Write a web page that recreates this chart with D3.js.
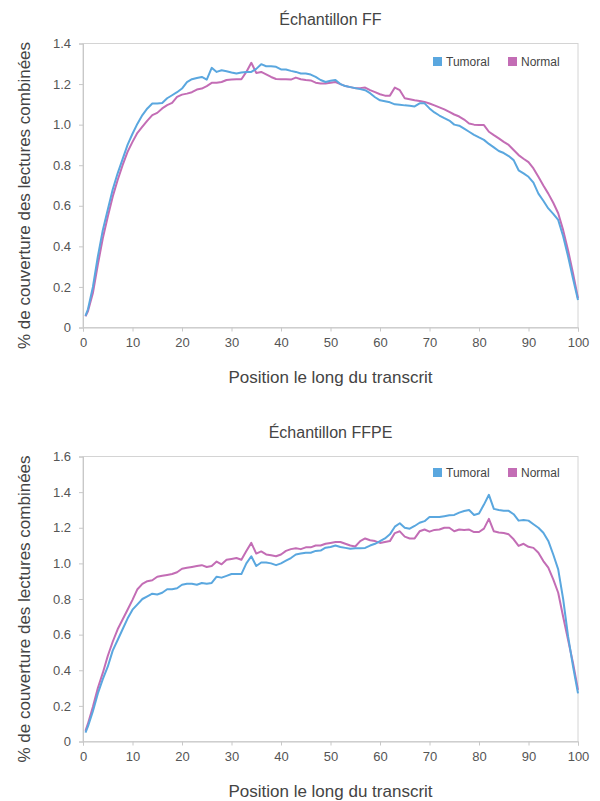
<!DOCTYPE html>
<html>
<head>
<meta charset="utf-8">
<script src="https://cdn.jsdelivr.net/npm/d3@7"></script>
<style>
  body { margin: 0; background: #fff; }
  text { font-family: "Liberation Sans", Arial, sans-serif; }
</style>
</head>
<body>
<script>
// position along the transcript (first point sits just right of 0)
var positions = [0.5].concat(d3.range(1, 101));

var ffTumoral = [0.057,
  0.09, 0.20, 0.35, 0.48, 0.58, 0.68, 0.76, 0.83, 0.90, 0.955,
  1.005, 1.047, 1.08, 1.104, 1.104, 1.107, 1.13, 1.145, 1.16, 1.178,
  1.21, 1.224, 1.23, 1.235, 1.222, 1.28, 1.26, 1.268, 1.263, 1.257,
  1.252, 1.257, 1.26, 1.26, 1.275, 1.298, 1.288, 1.288, 1.285, 1.272,
  1.272, 1.265, 1.26, 1.252, 1.252, 1.247, 1.235, 1.22, 1.21, 1.216,
  1.22, 1.20, 1.19, 1.185, 1.18, 1.175, 1.17, 1.155, 1.135, 1.12,
  1.115, 1.11, 1.10, 1.098, 1.095, 1.093, 1.09, 1.105, 1.105, 1.08,
  1.06, 1.045, 1.032, 1.02, 1.0, 0.995, 0.98, 0.965, 0.95, 0.937,
  0.925, 0.905, 0.888, 0.87, 0.86, 0.845, 0.825, 0.775, 0.76, 0.743,
  0.714, 0.66, 0.625, 0.587, 0.56, 0.53, 0.45, 0.35, 0.24, 0.136];

var ffNormal = [0.055,
  0.08, 0.17, 0.31, 0.44, 0.546, 0.645, 0.727, 0.80, 0.866, 0.915,
  0.96, 0.99, 1.02, 1.047, 1.058, 1.08, 1.096, 1.107, 1.137, 1.148,
  1.153, 1.16, 1.173, 1.178, 1.19, 1.206, 1.206, 1.21, 1.22, 1.222,
  1.224, 1.224, 1.26, 1.305, 1.255, 1.26, 1.248, 1.235, 1.225, 1.224,
  1.224, 1.222, 1.232, 1.224, 1.22, 1.218, 1.207, 1.203, 1.203, 1.206,
  1.21, 1.20, 1.19, 1.185, 1.18, 1.18, 1.183, 1.17, 1.16, 1.15,
  1.143, 1.143, 1.183, 1.17, 1.13, 1.125, 1.12, 1.117, 1.112, 1.104,
  1.095, 1.085, 1.075, 1.063, 1.05, 1.04, 1.025, 1.006, 1.0, 0.998,
  0.998, 0.965, 0.948, 0.932, 0.915, 0.90, 0.875, 0.85, 0.832, 0.815,
  0.784, 0.743, 0.70, 0.66, 0.615, 0.563, 0.48, 0.38, 0.267, 0.144];

var ffpeTumoral = [0.05,
  0.085, 0.17, 0.27, 0.35, 0.42, 0.51, 0.57, 0.63, 0.69, 0.74,
  0.77, 0.80, 0.815, 0.83, 0.825, 0.835, 0.855, 0.855, 0.86, 0.88,
  0.885, 0.885, 0.88, 0.89, 0.885, 0.89, 0.925, 0.92, 0.93, 0.94,
  0.94, 0.94, 1.0, 1.04, 0.985, 1.005, 1.005, 1.0, 0.99, 1.0,
  1.015, 1.03, 1.05, 1.055, 1.06, 1.06, 1.07, 1.072, 1.088, 1.092,
  1.1, 1.092, 1.087, 1.082, 1.085, 1.085, 1.087, 1.1, 1.11, 1.125,
  1.14, 1.163, 1.206, 1.225, 1.2, 1.195, 1.21, 1.228, 1.237, 1.26,
  1.26, 1.26, 1.265, 1.27, 1.272, 1.285, 1.294, 1.30, 1.272, 1.28,
  1.33, 1.385, 1.306, 1.30, 1.295, 1.295, 1.276, 1.24, 1.244, 1.24,
  1.22, 1.20, 1.172, 1.126, 1.05, 0.966, 0.80, 0.59, 0.42, 0.27];

var ffpeNormal = [0.06,
  0.10, 0.195, 0.30, 0.385, 0.48, 0.56, 0.63, 0.685, 0.74, 0.795,
  0.855, 0.885, 0.90, 0.905, 0.925, 0.93, 0.935, 0.94, 0.95, 0.97,
  0.975, 0.98, 0.985, 0.99, 0.98, 0.985, 1.01, 0.995, 1.02, 1.025,
  1.03, 1.02, 1.07, 1.115, 1.055, 1.067, 1.05, 1.045, 1.04, 1.05,
  1.07, 1.08, 1.085, 1.08, 1.09, 1.09, 1.1, 1.1, 1.11, 1.115,
  1.12, 1.12, 1.11, 1.10, 1.095, 1.125, 1.14, 1.13, 1.125, 1.115,
  1.12, 1.125, 1.17, 1.18, 1.15, 1.14, 1.14, 1.18, 1.19, 1.178,
  1.188, 1.19, 1.20, 1.20, 1.18, 1.19, 1.188, 1.19, 1.176, 1.176,
  1.195, 1.25, 1.18, 1.173, 1.17, 1.163, 1.135, 1.098, 1.11, 1.093,
  1.087, 1.06, 1.013, 0.976, 0.91, 0.835, 0.70, 0.57, 0.44, 0.29];

var xTicks = [0, 10, 20, 30, 40, 50, 60, 70, 80, 90, 100];
var ffYTicks = [0, 0.2, 0.4, 0.6, 0.8, 1.0, 1.2, 1.4];
var ffpeYTicks = [0, 0.2, 0.4, 0.6, 0.8, 1.0, 1.2, 1.4, 1.6];

var seriesNames = ["Tumoral", "Normal"];
var colors = {Tumoral: "#5aa7df", Normal: "#c36db5"};

var W = 600, H = 801;
var svg = d3.select("body").append("svg")
  .attr("width", W)
  .attr("height", H);

function draw_panel(opts) {
  var left = 83, right = 578;
  var x = d3.scaleLinear().domain([0, 100]).range([left, right]);
  var y = d3.scaleLinear().domain([0, opts.yMax]).range([opts.bottom, opts.top]);

  var g = svg.append("g");

  // frame
  g.append("rect")
    .attr("x", left).attr("y", opts.top)
    .attr("width", right - left).attr("height", opts.bottom - opts.top)
    .attr("fill", "none").attr("stroke", "#d4d4d4").attr("stroke-width", 1);

  var xAxis = g.append("g")
    .attr("transform", "translate(0," + opts.bottom + ")")
    .call(d3.axisBottom(x).tickValues(xTicks).tickSize(4).tickPadding(6));
  var yAxis = g.append("g")
    .attr("transform", "translate(" + left + ",0)")
    .call(d3.axisLeft(y).tickValues(opts.yTicks).tickSize(4).tickPadding(8)
      .tickFormat(function(d) { return d === 0 ? "0" : d3.format(".1f")(d); }));

  [xAxis, yAxis].forEach(function(a) {
    a.select(".domain").attr("stroke", "#c8c8c8");
    a.selectAll(".tick line").attr("stroke", "#c8c8c8");
    a.selectAll(".tick text")
      .attr("fill", "#555")
      .style("font-size", "13px")
      .style("font-family", "'Liberation Sans', Arial, sans-serif");
  });

  var line = d3.line()
    .x(function(d, i) { return x(positions[i]); })
    .y(function(d) { return y(d); });

  // Normal drawn first, tumoral on top
  [["Normal", opts.normal], ["Tumoral", opts.tumoral]].forEach(function(s) {
    g.append("path")
      .datum(s[1])
      .attr("fill", "none")
      .attr("stroke", colors[s[0]])
      .attr("stroke-width", 2)
      .attr("stroke-linejoin", "round")
      .attr("d", line);
  });

  // title
  g.append("text")
    .attr("x", (left + right) / 2)
    .attr("y", opts.top - 19)
    .attr("text-anchor", "middle")
    .attr("fill", "#444")
    .style("font-size", "16px")
    .text(opts.title);

  // axis titles
  g.append("text")
    .attr("x", (left + right) / 2)
    .attr("y", opts.bottom + 55)
    .attr("text-anchor", "middle")
    .attr("fill", "#444")
    .style("font-size", "17px")
    .text("Position le long du transcrit");

  g.append("text")
    .attr("transform", "translate(30," + ((opts.top + opts.bottom) / 2 + 10) + ") rotate(-90)")
    .attr("text-anchor", "middle")
    .attr("fill", "#444")
    .style("font-size", "17px")
    .text("% de couverture des lectures combinées");

  // legend
  var legX = [433, 508];
  var leg = g.selectAll(".leg")
    .data(seriesNames)
    .enter().append("g")
    .attr("class", "leg")
    .attr("transform", function(d, i) { return "translate(" + legX[i] + "," + opts.legendY + ")"; });
  leg.append("rect")
    .attr("x", 0).attr("y", -4.5)
    .attr("width", 9).attr("height", 9)
    .attr("fill", function(d) { return colors[d]; });
  leg.append("text")
    .attr("x", 13).attr("y", 4.5)
    .attr("fill", "#444")
    .style("font-size", "12px")
    .text(function(d) { return d; });
}

draw_panel({
  title: "Échantillon FF", top: 43.5, bottom: 327.5, yMax: 1.4, yTicks: ffYTicks,
  tumoral: ffTumoral, normal: ffNormal, legendY: 61.5
});

draw_panel({
  title: "Échantillon FFPE", top: 456.5, bottom: 741.5, yMax: 1.6, yTicks: ffpeYTicks,
  tumoral: ffpeTumoral, normal: ffpeNormal, legendY: 472.5
});
</script>
</body>
</html>
